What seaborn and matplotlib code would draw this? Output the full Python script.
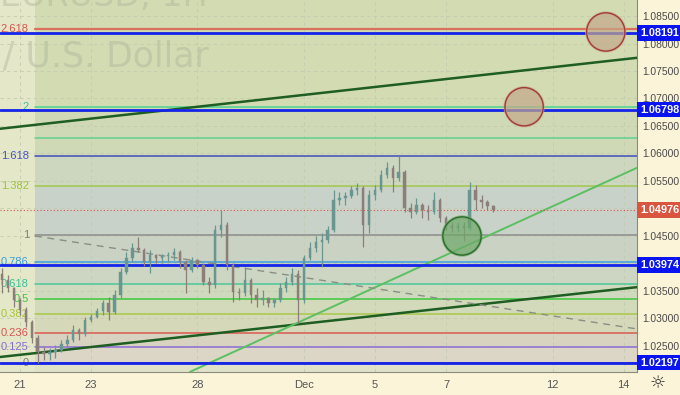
import numpy as np
import pandas as pd
import matplotlib
matplotlib.use("Agg")
import matplotlib.pyplot as plt
import matplotlib.transforms as mtransforms
import seaborn as sns

# =============================================================================
# Data (EURUSD, trading-day axis, 4H bars)
# =============================================================================
day_labels = ["21", "23", "28", "Dec", "5", "7", "12", "14"]
day_pos = [0, 2, 5, 8, 10, 12, 15, 17]

bar_start = -0.5
bars_per_day = 6
first_open = 1.0380
bar_close = [1.0370, 1.0355, 1.0334, 1.0316, 1.0294, 1.0265, 1.0239, 1.0235, 1.0239, 1.0243,
             1.0254, 1.0261, 1.0279, 1.0272, 1.0297, 1.0303, 1.0314, 1.0328, 1.0312, 1.0343,
             1.0385, 1.0410, 1.0428, 1.0425, 1.0403, 1.0415, 1.0410, 1.0414, 1.0415, 1.0421,
             1.0403, 1.0388, 1.0406, 1.0397, 1.0366, 1.0361, 1.0461, 1.0470, 1.0397, 1.0348,
             1.0346, 1.0370, 1.0343, 1.0334, 1.0337, 1.0328, 1.0334, 1.0355, 1.0366, 1.0381,
             1.0334, 1.0410, 1.0428, 1.0439, 1.0443, 1.0461, 1.0516, 1.0519, 1.0523, 1.0534,
             1.0537, 1.0470, 1.0525, 1.0534, 1.0561, 1.0574, 1.0555, 1.0566, 1.0501, 1.0494,
             1.0506, 1.0497, 1.0494, 1.0516, 1.0483, 1.0468, 1.0464, 1.0468, 1.0464, 1.0534,
             1.0516, 1.0512, 1.0505, 1.04976]
bar_high = [1.0391, 1.0379, 1.0358, 1.0338, 1.0320, 1.0298, 1.0270, 1.0248, 1.0246, 1.0252,
            1.0261, 1.0270, 1.0288, 1.0283, 1.0303, 1.0308, 1.0319, 1.0334, 1.0339, 1.0352,
            1.0392, 1.0421, 1.0437, 1.0448, 1.0428, 1.0425, 1.0417, 1.0417, 1.0421, 1.0428,
            1.0425, 1.0406, 1.0412, 1.0408, 1.0400, 1.0376, 1.0470, 1.0497, 1.0476, 1.0401,
            1.0356, 1.0394, 1.0374, 1.0356, 1.0352, 1.0339, 1.0337, 1.0365, 1.0376, 1.0392,
            1.0388, 1.0415, 1.0439, 1.0450, 1.0455, 1.0468, 1.0534, 1.0530, 1.0530, 1.0541,
            1.0546, 1.0541, 1.0534, 1.0543, 1.0570, 1.0585, 1.0579, 1.0596, 1.0570, 1.0510,
            1.0519, 1.0510, 1.0506, 1.0530, 1.0519, 1.0486, 1.0475, 1.0475, 1.0475, 1.0548,
            1.0543, 1.0525, 1.0516, 1.0506]
bar_low = [1.0347, 1.0348, 1.0321, 1.0306, 1.0285, 1.0255, 1.02197, 1.0225, 1.0225, 1.0228,
           1.0239, 1.0248, 1.0258, 1.0261, 1.0268, 1.0294, 1.0301, 1.0306, 1.0297, 1.0308,
           1.0338, 1.0380, 1.0403, 1.0421, 1.0395, 1.0383, 1.0401, 1.0401, 1.0403, 1.0406,
           1.0392, 1.0347, 1.0384, 1.0392, 1.0361, 1.0346, 1.0356, 1.0448, 1.0388, 1.0330,
           1.0334, 1.0340, 1.0328, 1.0321, 1.0325, 1.0321, 1.0321, 1.0330, 1.0348, 1.0361,
           1.0292, 1.0328, 1.0406, 1.0421, 1.0394, 1.0437, 1.0457, 1.0506, 1.0506, 1.0519,
           1.0525, 1.0430, 1.0455, 1.0516, 1.0530, 1.0556, 1.0530, 1.0550, 1.0494, 1.0483,
           1.0490, 1.0483, 1.0479, 1.0490, 1.0475, 1.0461, 1.0457, 1.0457, 1.0441, 1.0461,
           1.0497, 1.0501, 1.0497, 1.0494]

# Fibonacci retracement / extension
fib_start = 0.42
fib_base = 1.02197
fib_range = 0.0232
fib_levels = [0, 0.125, 0.236, 0.382, 0.5, 0.618, 0.786, 1, 1.382, 1.618, 2, 2.618]
fib_labels = ["0", "0.125", "0.236", "0.382", "0.5", "0.618", "0.786", "1", "1.382", "1.618", "2", "2.618"]
fib_text_colors = ["#808080", "#8a6cd6", "#d9534f", "#a6c43a", "#3fc23f", "#34c49a", "#3a9ee0",
                   "#808080", "#9ac43a", "#4452c4", "#34c3a0", "#d9534f"]
fib_line_colors = ["#3030a0", "#8c6cd6", "#d95a50", "#a8c84a", "#3cc83c", "#4cc79a", "#3a9ee0",
                   "#8c8c8c", "#a0c84a", "#3f4fb8", "#4fd28f", "#d9705a"]
fib_band_colors = ["#dbd6c6", "#d8d3c0", "#d6d9b9", "#d2dabb", "#cfd9bd", "#cdd6c3",
                   "#cad2c3", "#c9d2c8", "#cdd7c0", "#d0d9b6", "#d3dbb3"]
extra_level = 1.0628

# user horizontal levels (blue) and last price
blue_levels = [1.08191, 1.06798, 1.03974, 1.02197]
last_price = 1.04976

# trend lines: (day, price) pairs
trend_upper = [(-0.56, 1.0645), (17.38, 1.0774)]
trend_lower = [(-0.56, 1.0230), (17.38, 1.0357)]
trend_light = [(4.79, 1.0203), (17.38, 1.0574)]
trend_dashed = [(0.42, 1.0450), (17.38, 1.0281)]

# highlight circles
circle_day = [16.5, 14.2, 12.45]
circle_price = [1.0821, 1.0685, 1.0450]
circle_kind = ["target", "target", "support"]

price_ticks = [1.025, 1.030, 1.035, 1.040, 1.045, 1.050, 1.055, 1.060, 1.065, 1.070, 1.075, 1.080, 1.085]
hidden_ticks = [1.040, 1.050]  # covered by the price boxes

# =============================================================================
# Plot
# =============================================================================
sns.set_theme(style="white")
plt.rcParams['font.family'] = ['Liberation Sans', 'DejaVu Sans']

fig = plt.figure(figsize=(6.8, 3.95), dpi=100, facecolor="#fbf4d8")
ax = fig.add_axes([0, 23 / 395, 637 / 680, 372 / 395])
ax.set_facecolor("#e4e7c8")

xmin, xmax = -0.563, 17.38
ymin, ymax = 1.02027, 1.08791
ax.set_xlim(xmin, xmax)
ax.set_ylim(ymin, ymax)

# fib bands
fib_prices = [fib_base + lv * fib_range for lv in fib_levels]
for k in range(len(fib_prices) - 1):
    ax.fill_between([fib_start, xmax], fib_prices[k], fib_prices[k + 1],
                    color=fib_band_colors[k], lw=0, zorder=0.1)
ax.fill_between([fib_start, xmax], fib_prices[-1], ymax, color="#d3dbb3", lw=0, zorder=0.1)
ax.fill_between([fib_start, xmax], ymin, fib_prices[0], color="#e0e2c8", lw=0, zorder=0.1)

# grid
ax.set_axisbelow(True)
ax.set_xticks(day_pos)
ax.set_yticks(price_ticks)
ax.grid(True, ls=(0, (4, 4)), color="#c3cbb0", lw=0.6, zorder=0.5)

# watermark (partly outside the chart, as in the screenshot crop)
ax.text(0.0, 0.985, "EURUSD, 1H", transform=ax.transAxes, fontsize=24, color="#a9ae96",
        alpha=0.4, ha="left", va="baseline", zorder=0.6, family="DejaVu Sans")
ax.text(-0.136, 0.82, "Euro / U.S. Dollar", transform=ax.transAxes, fontsize=25, color="#a9ae96",
        alpha=0.4, ha="left", va="baseline", zorder=0.6, family="DejaVu Sans")

# fib lines + labels
for p, lab, tc, lc in zip(fib_prices, fib_labels, fib_text_colors, fib_line_colors):
    lw = 1.6 if lab == "2.618" else 1.1
    ax.plot([fib_start, xmax], [p, p], color=lc, lw=lw, zorder=2)
    ax.text(fib_start - 0.17, p, lab, color=tc, fontsize=8, ha="right", va="center", zorder=3)
ax.plot([fib_start, xmax], [extra_level, extra_level], color="#5fd08f", lw=1.1, zorder=2)

# blue horizontal levels and last price line
for p in blue_levels:
    ax.axhline(p, color="#1424e8", lw=2.0, zorder=4)
ax.axhline(last_price, color="#d9534f", lw=0.8, ls=(0, (1, 2)), zorder=4)

# trend lines
for pts, col, lw, ls in [(trend_upper, "#1e5e23", 1.8, "-"), (trend_lower, "#1e5e23", 1.8, "-"),
                         (trend_light, "#5cbf62", 1.4, "-"), (trend_dashed, "#8a8f86", 1.0, (0, (5, 4)))]:
    xs, ys = zip(*pts)
    ax.plot(xs, ys, color=col, lw=lw, ls=ls, zorder=3)

# candles
bars = pd.DataFrame({"close": bar_close, "high": bar_high, "low": bar_low})
bars["open"] = [first_open] + bar_close[:-1]
bars["day"] = bar_start + np.arange(len(bars)) / bars_per_day
bars["up"] = bars["close"] >= bars["open"]
colors = np.where(bars["up"], "#6a9690", "#8c7e78")
ax.vlines(bars["day"], bars["low"], bars["high"], colors=colors, lw=0.9, zorder=5)
ax.bar(bars["day"], (bars["close"] - bars["open"]).where(lambda s: s.abs() > 0.00006, 0.00006),
       bottom=bars["open"], width=0.07, color=colors, edgecolor=colors, lw=0.3, zorder=5)

# circles
circles = pd.DataFrame({"day": circle_day, "price": circle_price, "kind": circle_kind})
sns.scatterplot(data=circles, x="day", y="price", hue="kind",
                palette={"target": "#c4a98a", "support": "#6da868"}, s=760, alpha=0.7,
                edgecolor=None, legend=False, ax=ax, zorder=6)
for kind, ec in [("target", "#a33a3a"), ("support", "#2e6b2e")]:
    sub = circles[circles["kind"] == kind]
    ax.scatter(sub["day"], sub["price"], s=760, facecolors="none", edgecolors=ec, lw=1.0, zorder=7)

# axes styling
ax.set_xlabel("")
ax.set_ylabel("")
ax.yaxis.tick_right()
ax.set_yticklabels(["" if t in hidden_ticks else f"{t:.5f}" for t in price_ticks])
ax.set_xticklabels(day_labels)
ax.tick_params(axis="y", length=0, pad=4, labelsize=7.4, labelcolor="#4a4a4a")
ax.tick_params(axis="x", length=0, pad=6, labelsize=8, labelcolor="#555555")
for side in ["top", "left"]:
    ax.spines[side].set_visible(False)
for side in ["right", "bottom"]:
    ax.spines[side].set_color("#8a8a80")
    ax.spines[side].set_linewidth(0.8)

# price boxes on the axis
trans = mtransforms.blended_transform_factory(ax.transAxes, ax.transData)
for p in blue_levels:
    ax.text(1.005, p, f"{p:.5f}", transform=trans, color="white", fontsize=7.8, fontweight="bold",
            ha="left", va="center", clip_on=False, zorder=10,
            bbox=dict(boxstyle="square,pad=0.25", fc="#0a14f0", ec="none"))
ax.text(1.005, last_price, f"{last_price:.5f}", transform=trans, color="white", fontsize=7.8,
        fontweight="bold", ha="left", va="center", clip_on=False, zorder=10,
        bbox=dict(boxstyle="square,pad=0.25", fc="#d9553f", ec="none"))

fig.text(658 / 680, 12 / 395, "\u263c", fontsize=13, color="#333333", ha="center", va="center",
         family="DejaVu Sans")

plt.savefig("out.png", dpi=100, facecolor=fig.get_facecolor())
plt.close()
